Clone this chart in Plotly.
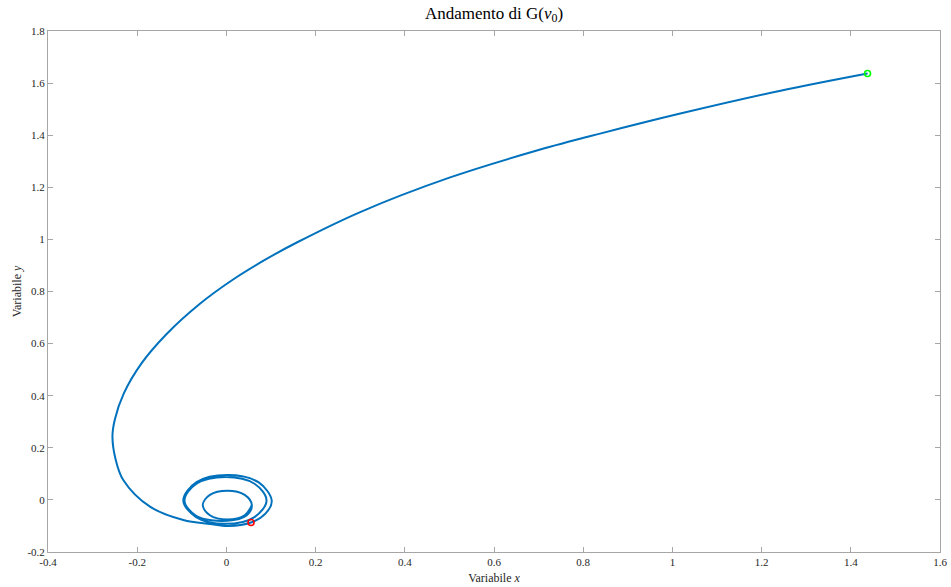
import plotly.graph_objects as go

# Trajectory of the solution in the (x, y) plane
traj_x = [1.4375, 1.2400, 1.0200, 0.8400, 0.7000, 0.5000, 0.3000, 0.1600, 0.0900,
          0.0150, -0.0600, -0.1340, -0.1900, -0.2300, -0.2500, -0.2555, -0.2490,
          -0.2312, -0.1713, -0.0966, -0.0368, 0.0040, 0.0552, 0.0880, 0.1016,
          0.0725, 0.0025, -0.0670, -0.0966, -0.0680, -0.0020, 0.0630, 0.0900,
          0.0630, -0.0020, -0.0670, -0.0940, -0.0670, 0.0020, 0.0450, 0.0570,
          0.0410, 0.0020, -0.0370, -0.0530, -0.0370, 0.0020, 0.0410, 0.0570]
traj_y = [1.6369, 1.5700, 1.4840, 1.4070, 1.3430, 1.2370, 1.1050, 0.9900, 0.9250,
          0.8460, 0.7520, 0.6370, 0.5250, 0.4090, 0.3100, 0.2450, 0.1600,
          0.0764, -0.0261, -0.0772, -0.0925, -0.1002, -0.0870, -0.0520, -0.0030,
          0.0670, 0.0956, 0.0680, -0.0020, -0.0660, -0.0920, -0.0660, -0.0020,
          0.0620, 0.0880, 0.0620, -0.0020, -0.0620, -0.0800, -0.0600, -0.0200,
          0.0190, 0.0350, 0.0190, -0.0200, -0.0590, -0.0750, -0.0590, -0.0200]

# Marked points: initial condition and final point
start_x, start_y = [1.4375], [1.6369]
end_x, end_y = [0.0552], [-0.0870]

x_ticks = [-0.4, -0.2, 0, 0.2, 0.4, 0.6, 0.8, 1, 1.2, 1.4, 1.6]
x_tick_text = ["-0.4", "-0.2", "0", "0.2", "0.4", "0.6", "0.8", "1", "1.2", "1.4", "1.6"]
y_ticks = [-0.2, 0, 0.2, 0.4, 0.6, 0.8, 1, 1.2, 1.4, 1.6, 1.8]
y_tick_text = ["-0.2", "0", "0.2", "0.4", "0.6", "0.8", "1", "1.2", "1.4", "1.6", "1.8"]

FONT = "Liberation Serif"
AXIS_GREY = "#a6a6a6"
TEXT_COL = "#262626"

fig = go.Figure()
fig.add_trace(go.Scatter(
    x=traj_x, y=traj_y, mode="lines",
    line=dict(color="#0072BD", width=2, shape="spline", smoothing=1.0),
    hoverinfo="skip", showlegend=False,
))
fig.add_trace(go.Scatter(
    x=start_x, y=start_y, mode="markers",
    marker=dict(symbol="circle-open", size=6, color="#00ff00", line=dict(width=1.6)),
    showlegend=False,
))
fig.add_trace(go.Scatter(
    x=end_x, y=end_y, mode="markers",
    marker=dict(symbol="circle-open", size=6, color="#ff0000", line=dict(width=1.6)),
    showlegend=False,
))

axis_common = dict(
    showgrid=False, zeroline=False, showline=True, linecolor=AXIS_GREY, linewidth=1,
    mirror="ticks", ticks="inside", ticklen=5, tickcolor=AXIS_GREY, tickwidth=1,
    tickfont=dict(family=FONT, size=11, color=TEXT_COL), automargin=False,
)

fig.update_layout(
    width=951, height=587,
    margin=dict(l=48, r=11, t=31, b=35),
    paper_bgcolor="white", plot_bgcolor="white",
    title=dict(
        text="Andamento di G(<i>v</i><sub>0</sub>)",
        x=0.5, xref="paper", xanchor="center",
        y=1, yref="container", yanchor="top", pad=dict(t=7),
        font=dict(family=FONT, size=17, color="black"),
    ),
    xaxis=dict(
        range=[-0.4, 1.6], tickvals=x_ticks, ticktext=x_tick_text,
        title=dict(text="Variabile <i>x</i>", standoff=6,
                   font=dict(family=FONT, size=12, color=TEXT_COL)),
        **axis_common,
    ),
    yaxis=dict(
        range=[-0.2, 1.8], tickvals=y_ticks, ticktext=y_tick_text,
        title=dict(text="Variabile <i>y</i>", standoff=3,
                   font=dict(family=FONT, size=12, color=TEXT_COL)),
        **axis_common,
    ),
)

fig.write_html("out.html")
